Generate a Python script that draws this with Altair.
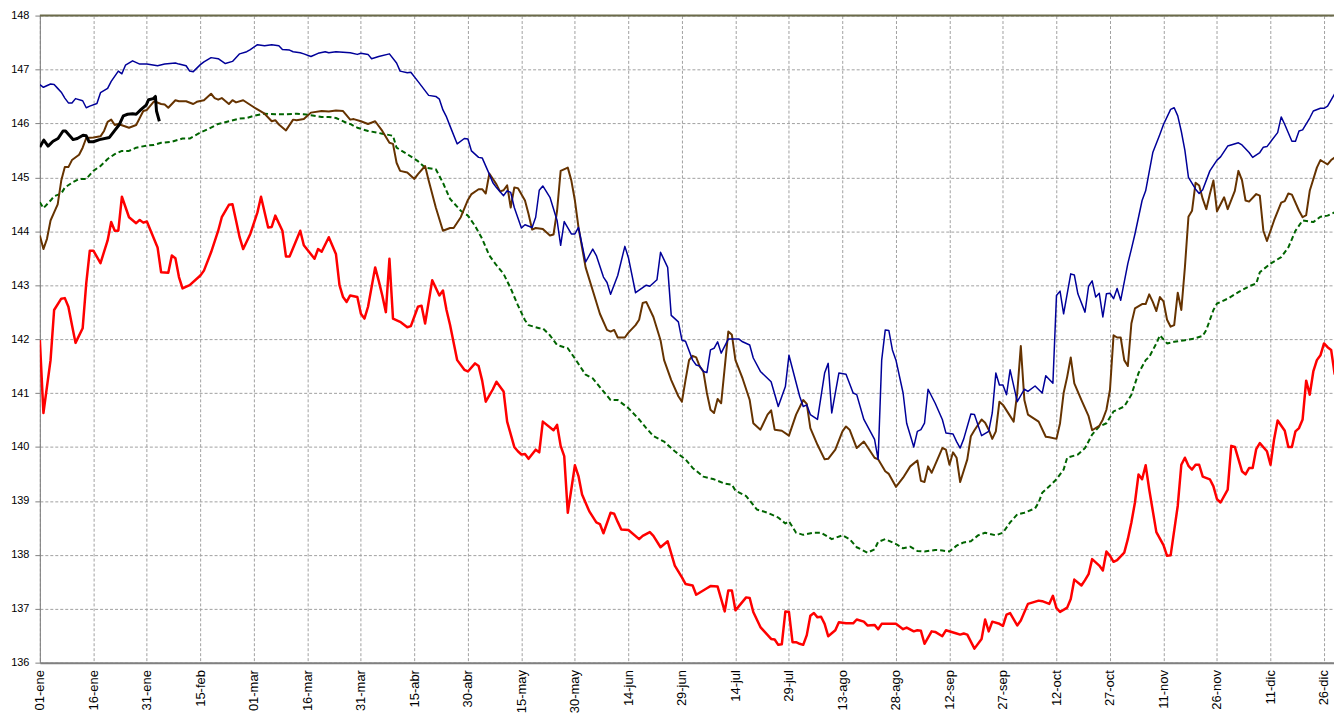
import altair as alt
import pandas as pd

# x = day of (leap) year starting at 01-ene = 0
tick_days = list(range(0, 361, 15))
tick_labels = ['01-ene', '16-ene', '31-ene', '15-feb', '01-mar', '16-mar', '31-mar', '15-abr',
               '30-abr', '15-may', '30-may', '14-jun', '29-jun', '14-jul', '29-jul', '13-ago',
               '28-ago', '12-sep', '27-sep', '12-oct', '27-oct', '11-nov', '26-nov', '11-dic', '26-dic']
y_ticks = list(range(136, 149))

blue_pts = [(0,146.72),(1,146.67),(3,146.73),(4,146.72),(5,146.65),(6,146.58),(7,146.47),(8,146.38),(9,146.38),(10,146.46),(12,146.42),(13,146.29),(14,146.32),(16,146.37),(17,146.57),(19,146.65),(20,146.78),(22,146.97),(23,146.92),(24,147.08),(26,147.16),(28,147.10),(30,147.10),(33,147.07),(35,147.10),(38,147.12),(39,147.10),(41,147.07),(42,146.97),(43,146.96),(45,147.09),(46,147.14),(48,147.22),(50,147.20),(52,147.11),(54,147.15),(56,147.29),(58,147.33),(59,147.37),(61,147.46),(63,147.44),(65,147.46),(67,147.44),(68,147.37),(70,147.36),(71,147.33),(73,147.31),(74,147.29),(76,147.24),(78,147.30),(80,147.33),(81,147.31),(83,147.33),(87,147.31),(89,147.28),(90,147.30),(92,147.28),(93,147.20),(95,147.24),(98,147.29),(100,147.12),(101,146.97),(103,146.94),(104,146.95),(106,146.78),(109,146.52),(111,146.50),(112,146.45),(113,146.25),(114,146.12),(115,145.95),(117,145.62),(119,145.72),(120,145.71),(121,145.49),(123,145.37),(124,145.36),(126,145.06),(127,144.90),(128,144.81),(130,144.66),(131,144.75),(132,144.72),(133,144.44),(135,144.06),(136,144.12),(138,144.07),(139,144.26),(140,144.76),(141,144.84),(143,144.63),(145,144.20),(146,143.74),(147,144.18),(149,143.95),(150,143.95),(151,144.07),(153,143.43),(155,143.67),(156,143.55),(158,143.15),(159,143.05),(160,142.83),(162,143.18),(164,143.72),(165,143.51),(167,142.86),(170,143.00),(171,142.98),(173,143.10),(174,143.61),(176,143.33),(177,142.44),(179,142.32),(180,141.98),(181,141.96),(183,141.61),(184,141.52),(185,141.50),(186,141.40),(187,141.38),(188,141.80),(189,141.83),(190,141.95),(191,141.74),(193,142.00),(196,142.00),(197,141.95),(199,141.89),(200,141.65),(202,141.40),(205,141.21),(207,140.75),(209,141.12),(210,141.70),(213,140.94),(214,140.75),(215,140.78),(216,140.60),(218,140.51),(220,141.37),(221,141.55),(222,140.63),(224,141.37),(226,141.35),(228,141.00),(229,140.97),(231,140.51),(234,140.14),(235,139.77),(236,141.61),(237,142.17),(238,142.16),(239,141.80),(240,141.61),(242,141.00),(243,140.44),(245,140.00),(246,140.29),(247,140.32),(248,140.44),(249,141.07),(251,140.81),(253,140.51),(254,140.26),(256,140.24),(257,140.10),(258,139.98),(259,140.15),(261,140.61),(262,140.60),(264,140.21),(266,140.29),(267,140.63),(268,141.37),(269,141.15),(270,141.15),(271,140.97),(272,141.43),(274,140.84),(276,141.07),(277,141.03),(279,141.13),(281,141.00),(282,141.32),(284,141.18),(285,142.81),(286,142.89),(287,142.47),(289,143.21),(290,143.19),(291,142.84),(293,142.50),(294,142.98),(295,143.08),(296,142.78),(297,142.85),(298,142.41),(299,142.84),(300,142.85),(301,142.75),(302,142.94),(303,142.72),(305,143.40),(306,143.67),(307,143.95),(309,144.57),(310,144.75),(312,145.46),(314,145.80),(315,145.98),(317,146.26),(318,146.29),(319,146.14),(320,145.85),(321,145.50),(322,145.00),(324,144.78),(325,144.70),(326,144.77),(328,145.12),(330,145.32),(331,145.38),(333,145.58),(336,145.64),(337,145.60),(339,145.46),(340,145.37),(342,145.46),(343,145.56),(344,145.57),(347,145.83),(348,146.12),(349,145.98),(351,145.67),(352,145.67),(353,145.86),(354,145.88),(356,146.10),(357,146.23),(359,146.28),(360,146.28),(361,146.32),(363,146.55)]

brown_pts = [(0,143.92),(1,143.67),(2,143.86),(3,144.20),(4,144.35),(5,144.50),(6,144.94),(7,145.19),(8,145.19),(9,145.32),(11,145.42),(12,145.55),(13,145.73),(15,145.74),(17,145.76),(18,145.86),(19,146.03),(20,146.07),(21,145.97),(22,145.99),(25,145.92),(27,145.97),(29,146.23),(30,146.25),(32,146.41),(34,146.36),(35,146.35),(36,146.29),(38,146.43),(39,146.41),(41,146.41),(43,146.36),(44,146.40),(46,146.43),(48,146.55),(49,146.47),(50,146.44),(51,146.47),(53,146.36),(54,146.43),(55,146.39),(57,146.43),(60,146.30),(61,146.26),(63,146.18),(65,146.04),(66,146.06),(67,145.98),(69,145.87),(71,146.07),(72,146.06),(74,146.08),(76,146.20),(79,146.23),(81,146.22),(83,146.24),(85,146.23),(87,146.07),(88,146.08),(90,146.04),(92,145.99),(94,146.04),(96,145.86),(98,145.64),(99,145.62),(100,145.27),(101,145.12),(103,145.09),(105,144.97),(106,145.06),(108,145.21),(109,144.94),(111,144.44),(113,144.01),(115,144.06),(116,144.06),(118,144.26),(120,144.58),(121,144.69),(123,144.78),(124,144.78),(125,144.70),(126,145.07),(128,144.87),(129,144.74),(130,144.76),(131,144.85),(132,144.44),(133,144.81),(134,144.80),(136,144.57),(137,144.32),(138,144.03),(139,144.06),(141,144.04),(143,143.92),(144,143.94),(145,144.38),(146,145.12),(148,145.18),(149,144.94),(150,144.57),(151,144.07),(153,143.33),(155,142.90),(157,142.47),(159,142.17),(160,142.14),(161,142.17),(162,142.03),(164,142.03),(165,142.12),(167,142.26),(168,142.36),(169,142.67),(170,142.69),(172,142.41),(174,141.98),(175,141.61),(177,141.24),(179,140.94),(180,140.84),(181,141.24),(182,141.61),(183,141.69),(184,141.66),(185,141.49),(186,141.40),(187,141.00),(188,140.69),(189,140.63),(190,140.89),(191,140.81),(193,142.14),(194,142.08),(195,141.61),(197,141.27),(199,140.87),(200,140.44),(202,140.32),(204,140.60),(205,140.68),(206,140.32),(208,140.30),(210,140.21),(212,140.60),(214,140.87),(215,140.80),(216,140.35),(218,140.04),(220,139.77),(221,139.78),(223,139.95),(225,140.29),(226,140.38),(227,140.32),(229,139.98),(231,140.10),(234,139.80),(235,139.77),(237,139.55),(238,139.50),(240,139.26),(242,139.43),(244,139.64),(246,139.75),(247,139.37),(248,139.35),(249,139.64),(250,139.52),(253,139.98),(254,139.95),(255,139.67),(256,139.90),(257,139.80),(258,139.35),(260,139.77),(261,140.20),(262,140.31),(264,140.51),(265,140.45),(266,140.32),(267,140.15),(268,140.29),(269,140.84),(270,140.78),(273,140.47),(274,141.00),(275,141.87),(276,140.87),(277,140.60),(280,140.47),(282,140.19),(283,140.18),(285,140.15),(286,140.44),(287,141.00),(288,141.30),(289,141.66),(290,141.18),(292,140.87),(294,140.57),(295,140.31),(297,140.39),(298,140.51),(299,140.69),(300,141.06),(301,142.07),(302,142.03),(303,142.03),(304,141.61),(305,141.50),(306,142.29),(307,142.57),(309,142.65),(310,142.65),(311,142.83),(312,142.69),(313,142.52),(314,142.78),(315,142.70),(316,142.36),(317,142.23),(318,142.26),(319,142.86),(320,142.54),(321,143.33),(322,144.27),(323,144.38),(324,144.90),(325,144.85),(326,144.60),(327,144.41),(328,144.69),(329,144.94),(330,144.37),(331,144.50),(332,144.63),(333,144.41),(335,144.75),(336,145.12),(337,144.95),(338,144.57),(339,144.55),(341,144.69),(342,144.66),(343,144.01),(344,143.82),(346,144.20),(348,144.53),(349,144.56),(350,144.70),(351,144.68),(353,144.38),(354,144.26),(355,144.30),(356,144.75),(358,145.18),(359,145.32),(360,145.28),(361,145.24),(362,145.32),(363,145.37)]

green_pts = [(0,144.54),(1,144.43),(3,144.57),(4,144.65),(6,144.70),(7,144.81),(9,144.90),(11,144.97),(13,144.97),(15,145.12),(17,145.21),(19,145.34),(21,145.43),(23,145.49),(25,145.49),(27,145.55),(30,145.59),(32,145.60),(34,145.64),(37,145.66),(40,145.72),(42,145.72),(45,145.83),(47,145.89),(50,145.99),(53,146.04),(56,146.09),(58,146.10),(60,146.14),(63,146.18),(66,146.17),(69,146.17),(72,146.18),(74,146.17),(76,146.15),(79,146.12),(81,146.12),(83,146.10),(86,146.01),(87,145.99),(89,145.92),(92,145.86),(96,145.81),(99,145.77),(100,145.55),(103,145.43),(106,145.30),(108,145.18),(111,145.15),(113,144.90),(115,144.60),(118,144.38),(120,144.29),(122,144.10),(124,143.86),(126,143.55),(128,143.37),(130,143.21),(132,142.94),(134,142.63),(136,142.35),(137,142.26),(140,142.20),(141,142.20),(143,142.07),(145,141.89),(148,141.83),(150,141.64),(153,141.34),(155,141.27),(158,141.03),(160,140.87),(162,140.87),(165,140.72),(168,140.51),(170,140.35),(172,140.20),(175,140.10),(178,139.92),(181,139.77),(183,139.61),(186,139.45),(189,139.40),(192,139.32),(194,139.30),(195,139.19),(198,139.09),(201,138.84),(204,138.78),(207,138.69),(209,138.58),(210,138.62),(212,138.41),(214,138.37),(217,138.41),(219,138.41),(222,138.29),(225,138.36),(227,138.29),(229,138.14),(232,138.04),(234,138.10),(235,138.24),(237,138.29),(240,138.20),(242,138.12),(244,138.15),(246,138.07),(248,138.06),(251,138.09),(253,138.08),(255,138.06),(257,138.17),(259,138.23),(261,138.25),(263,138.36),(265,138.41),(268,138.36),(270,138.41),(272,138.60),(274,138.75),(276,138.78),(279,138.86),(280,138.97),(281,139.15),(283,139.27),(285,139.40),(287,139.58),(288,139.80),(291,139.86),(293,139.98),(295,140.23),(297,140.38),(299,140.44),(301,140.66),(304,140.75),(306,140.97),(308,141.37),(310,141.61),(311,141.67),(313,141.92),(314,142.07),(316,141.92),(318,141.95),(321,141.98),(323,142.00),(326,142.06),(327,142.17),(329,142.54),(330,142.66),(333,142.75),(336,142.87),(339,142.98),(341,143.03),(342,143.24),(345,143.40),(348,143.52),(350,143.70),(352,144.01),(354,144.20),(357,144.17),(359,144.27),(361,144.29),(363,144.35)]

red_pts = [(0,141.98),(1,140.63),(3,141.61),(4,142.54),(6,142.75),(7,142.76),(8,142.60),(9,142.26),(10,141.93),(12,142.20),(13,143.03),(14,143.64),(15,143.64),(17,143.41),(19,143.83),(20,144.17),(21,144.01),(22,144.01),(23,144.64),(25,144.26),(27,144.15),(28,144.21),(29,144.16),(30,144.18),(33,143.70),(34,143.24),(36,143.23),(37,143.55),(38,143.50),(39,143.15),(40,142.94),(42,143.00),(45,143.18),(46,143.27),(48,143.61),(50,144.01),(51,144.26),(53,144.49),(54,144.50),(55,144.20),(56,143.89),(57,143.67),(59,143.95),(61,144.35),(62,144.64),(64,144.07),(65,144.08),(66,144.29),(68,144.01),(69,143.53),(70,143.53),(73,144.01),(74,143.74),(77,143.49),(78,143.67),(79,143.62),(81,143.89),(83,143.58),(84,143.00),(85,142.78),(86,142.69),(87,142.81),(89,142.78),(90,142.47),(91,142.38),(92,142.60),(94,143.33),(95,143.08),(96,142.81),(97,142.50),(98,143.49),(99,142.38),(101,142.32),(103,142.22),(104,142.24),(106,142.60),(107,142.62),(108,142.29),(110,143.09),(112,142.81),(113,142.90),(114,142.54),(115,142.26),(117,141.61),(119,141.43),(120,141.40),(122,141.55),(123,141.50),(124,141.23),(125,140.84),(127,141.07),(128,141.21),(130,141.03),(131,140.47),(133,140.00),(134,139.92),(135,139.86),(136,139.87),(137,139.78),(139,139.95),(140,139.90),(141,140.47),(144,140.31),(145,140.41),(146,140.02),(147,139.83),(148,138.78),(150,139.66),(151,139.46),(152,139.12),(154,138.81),(156,138.60),(157,138.57),(158,138.40),(160,138.78),(161,138.76),(162,138.61),(163,138.47),(165,138.46),(168,138.29),(169,138.35),(171,138.42),(172,138.35),(174,138.14),(176,138.25),(178,137.80),(180,137.58),(181,137.46),(183,137.43),(184,137.26),(187,137.38),(188,137.42),(190,137.41),(192,136.95),(193,137.34),(194,137.34),(195,136.97),(198,137.21),(199,137.20),(200,136.94),(202,136.66),(205,136.44),(206,136.43),(207,136.33),(208,136.34),(209,136.95),(210,136.94),(211,136.38),(212,136.38),(213,136.35),(214,136.33),(215,136.51),(216,136.87),(217,136.92),(218,136.84),(219,136.85),(220,136.72),(221,136.49),(223,136.60),(224,136.75),(226,136.73),(228,136.73),(229,136.80),(231,136.76),(232,136.69),(234,136.70),(235,136.62),(236,136.72),(240,136.72),(242,136.62),(243,136.65),(245,136.58),(246,136.60),(247,136.59),(248,136.35),(250,136.58),(251,136.57),(253,136.49),(254,136.60),(257,136.54),(258,136.52),(259,136.54),(260,136.52),(262,136.26),(264,136.44),(265,136.80),(266,136.58),(267,136.76),(269,136.72),(270,136.68),(271,136.89),(272,136.92),(274,136.69),(275,136.78),(277,137.09),(280,137.15),(281,137.14),(283,137.09),(284,137.24),(285,137.01),(286,136.94),(288,137.02),(289,137.18),(290,137.54),(292,137.43),(293,137.53),(294,137.64),(295,137.92),(297,137.80),(298,137.71),(299,138.06),(300,137.98),(301,137.87),(302,137.90),(304,138.04),(305,138.29),(306,138.60),(307,138.97),(308,139.49),(309,139.40),(310,139.66),(311,139.21),(313,138.42),(315,138.18),(316,137.98),(317,137.99),(319,138.91),(320,139.67),(321,139.80),(322,139.65),(323,139.58),(324,139.67),(325,139.67),(326,139.45),(328,139.40),(329,139.27),(330,139.03),(331,138.97),(333,139.21),(334,140.02),(335,140.00),(337,139.55),(338,139.49),(339,139.61),(340,139.61),(341,139.96),(342,140.07),(344,139.92),(345,139.67),(346,140.14),(347,140.49),(349,140.30),(350,140.00),(351,140.00),(352,140.29),(353,140.35),(354,140.51),(355,141.23),(356,140.97),(357,141.40),(358,141.61),(359,141.70),(360,141.92),(361,141.85),(362,141.80),(363,141.34)]

black_pts = [(0,145.56),(1.1,145.69),(2.3,145.58),(3.7,145.67),(5.1,145.72),(6.5,145.86),(7.2,145.86),(9.3,145.70),(10.5,145.72),(12.1,145.78),(13.0,145.77),(13.8,145.66),(15.0,145.66),(16.7,145.70),(19.5,145.74),(20.9,145.86),(22.3,145.98),(23.4,146.14),(24.6,146.17),(26.0,146.18),(27.0,146.17),(28.4,146.26),(29.8,146.34),(30.5,146.44),(31.8,146.46),(32.4,146.50),(32.7,146.23),(33.5,146.04)]


def frame(pts):
    return pd.DataFrame({'day': [p[0] for p in pts], 'val': [p[1] for p in pts]})


label_expr = '[' + ','.join("'%s'" % s for s in tick_labels) + '][round(datum.value / 15)]'

FONT = 'Liberation Sans'
GRID = '#a0a0a0'

x_enc = alt.X('day:Q',
              scale=alt.Scale(domain=[0, 362.8], nice=False, zero=False),
              axis=alt.Axis(values=tick_days, labelExpr=label_expr, labelAngle=270,
                            labelOverlap=False, labelFlush=False, labelBound=False,
                            grid=True, gridColor=GRID, gridDash=[3, 2], gridWidth=1,
                            domainColor='#808080', domainWidth=2, ticks=False,
                            labelPadding=7, labelFont=FONT, labelFontSize=13,
                            labelColor='#000000', title=None))
y_enc = alt.Y('val:Q',
              scale=alt.Scale(domain=[136, 148], nice=False, zero=False),
              axis=alt.Axis(values=y_ticks, format='d', grid=True, gridColor=GRID,
                            gridDash=[3, 2], gridWidth=1, domainColor='#808080',
                            domainWidth=1, tickColor='#808080', tickSize=5, labelPadding=6,
                            labelFont=FONT, labelFontSize=11, labelColor='#000000',
                            title=None))


def line(pts, color, width, dash=None):
    kw = dict(color=color, strokeWidth=width, clip=True, strokeJoin='round')
    if dash:
        kw['strokeDash'] = dash
    return alt.Chart(frame(pts)).mark_line(**kw).encode(x=x_enc, y=y_enc, order='day:Q')


top_border = alt.Chart(pd.DataFrame({'val': [148]})).mark_rule(
    color='#6b6b4a', strokeWidth=2).encode(y=alt.Y('val:Q', scale=alt.Scale(domain=[136, 148])))

chart = alt.layer(
    line(green_pts, '#006400', 2, [5, 3]),
    line(red_pts, '#ff0000', 2.5),
    line(brown_pts, '#663300', 2),
    line(blue_pts, '#000099', 1.5),
    line(black_pts, '#000000', 3),
    top_border,
).properties(
    width=1300, height=650,
    autosize=alt.AutoSizeParams(type='none'),
    padding={'left': 32, 'top': 6, 'right': 0, 'bottom': 52},
).configure_view(stroke=None).configure(background='white')

chart.save('out.html', embed_options={'renderer': 'svg', 'actions': False})
